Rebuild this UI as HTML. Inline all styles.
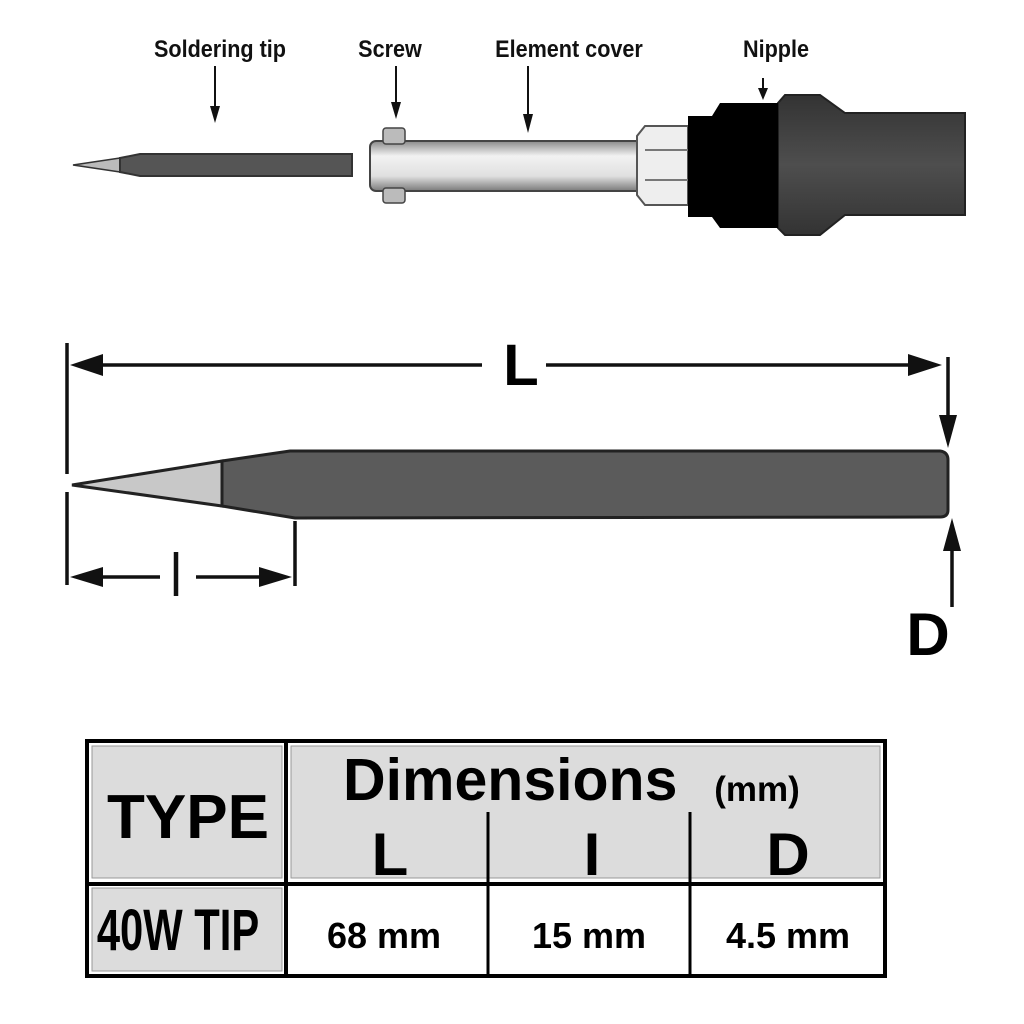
<!DOCTYPE html>
<html><head><meta charset="utf-8"><style>html,body{margin:0;padding:0;background:#fff}svg{display:block}</style></head>
<body>
<svg width="1024" height="1024" viewBox="0 0 1024 1024" xmlns="http://www.w3.org/2000/svg" font-family="Liberation Sans, Arial, sans-serif" font-weight="bold">
<defs>
<linearGradient id="cov" x1="0" y1="0" x2="0" y2="1">
<stop offset="0" stop-color="#8a8a8a"/><stop offset="0.3" stop-color="#f2f2f2"/><stop offset="0.7" stop-color="#e0e0e0"/><stop offset="1" stop-color="#7a7a7a"/>
</linearGradient>
<linearGradient id="hdl" x1="0" y1="0" x2="0" y2="1">
<stop offset="0" stop-color="#333"/><stop offset="0.5" stop-color="#4e4e4e"/><stop offset="1" stop-color="#333"/>
</linearGradient>
</defs>
<g font-size="24" fill="#111">
<text x="220" y="57" text-anchor="middle" transform="translate(220,0) scale(0.9,1) translate(-220,0)">Soldering tip</text>
<text x="390" y="57" text-anchor="middle" transform="translate(390,0) scale(0.9,1) translate(-390,0)">Screw</text>
<text x="569" y="57" text-anchor="middle" transform="translate(569,0) scale(0.9,1) translate(-569,0)">Element cover</text>
<text x="776" y="57" text-anchor="middle" transform="translate(776,0) scale(0.9,1) translate(-776,0)">Nipple</text>
</g>
<g stroke="#111" stroke-width="2">
<line x1="215" y1="66" x2="215" y2="110"/><line x1="396" y1="66" x2="396" y2="106"/><line x1="528" y1="66" x2="528" y2="118"/><line x1="763" y1="78" x2="763" y2="90"/>
</g>
<g fill="#111">
<polygon points="210,106 220,106 215,123"/><polygon points="391,102 401,102 396,119"/><polygon points="523,114 533,114 528,133"/><polygon points="758,88 768,88 763,100"/>
</g>
<polygon points="73,165 120,158 120,172" fill="#bbb" stroke="#333" stroke-width="1.5"/>
<polygon points="120,158 140,154 352,154 352,176 140,176 120,172" fill="#555" stroke="#333" stroke-width="2"/>
<rect x="370" y="141" width="272" height="50" rx="6" fill="url(#cov)" stroke="#444" stroke-width="2"/>
<rect x="383" y="128" width="22" height="16" rx="3" fill="#bbb" stroke="#444" stroke-width="1.5"/>
<rect x="383" y="188" width="22" height="15" rx="3" fill="#bbb" stroke="#444" stroke-width="1.5"/>
<polygon points="645,126 688,126 688,205 645,205 637,195 637,136" fill="#eee" stroke="#555" stroke-width="2"/>
<line x1="645" y1="150" x2="688" y2="150" stroke="#777" stroke-width="2"/>
<line x1="645" y1="180" x2="688" y2="180" stroke="#777" stroke-width="2"/>
<path d="M778,103 L785,95 L820,95 L845,113 L965,113 L965,215 L845,215 L820,235 L785,235 L778,228 Z" fill="url(#hdl)" stroke="#222" stroke-width="2"/>
<path d="M688,116 L712,116 L720,103 L778,103 L778,228 L720,228 L712,217 L688,217 Z" fill="#000"/>
<g stroke="#111" stroke-width="3.5" fill="none">
<line x1="67" y1="343" x2="67" y2="474"/><line x1="67" y1="492" x2="67" y2="585"/>
<line x1="85" y1="365" x2="482" y2="365"/><line x1="546" y1="365" x2="922" y2="365"/>
<line x1="948" y1="357" x2="948" y2="420"/>
<line x1="952" y1="545" x2="952" y2="607"/>
<line x1="85" y1="577" x2="160" y2="577"/><line x1="196" y1="577" x2="275" y2="577"/>
<line x1="295" y1="521" x2="295" y2="586"/>
<line x1="176" y1="552" x2="176" y2="596" stroke-width="4.5"/>
</g>
<g fill="#111">
<polygon points="70,365 103,354 103,376"/><polygon points="942,365 908,354 908,376"/>
<polygon points="948,448 939,415 957,415"/><polygon points="952,518 943,551 961,551"/>
<polygon points="70,577 103,567 103,587"/><polygon points="292,577 259,567 259,587"/>
</g>
<text x="521" y="385" font-size="58" text-anchor="middle" fill="#000">L</text>
<text x="928" y="655" font-size="60" text-anchor="middle" fill="#000">D</text>
<polygon points="72,485 222,461 222,506" fill="#c8c8c8" stroke="#222" stroke-width="3"/>
<path d="M222,461 L290,451 L940,451 Q948,452 948,460 L948,510 Q948,517 940,517 L295,518 L222,506 Z" fill="#5b5b5b" stroke="#222" stroke-width="3"/>
<rect x="87" y="741" width="798" height="235" fill="#fff" stroke="#000" stroke-width="4"/>
<rect x="92" y="746" width="190" height="132" fill="#dcdcdc" stroke="#999" stroke-width="1"/>
<rect x="291" y="746" width="589" height="132" fill="#dcdcdc" stroke="#999" stroke-width="1"/>
<rect x="92" y="888" width="190" height="83" fill="#dcdcdc" stroke="#999" stroke-width="1"/>
<g stroke="#000" stroke-width="4">
<line x1="286" y1="741" x2="286" y2="976"/>
<line x1="87" y1="884" x2="885" y2="884"/>
<line x1="488" y1="812" x2="488" y2="976" stroke-width="3"/>
<line x1="690" y1="812" x2="690" y2="976" stroke-width="3"/>
</g>
<g fill="#000">
<text x="188" y="838" font-size="62" text-anchor="middle">TYPE</text>
<text x="343" y="800" font-size="59">Dimensions</text>
<text x="757" y="801" font-size="35" text-anchor="middle">(mm)</text>
<text x="390" y="875" font-size="60" text-anchor="middle">L</text>
<text x="592" y="875" font-size="60" text-anchor="middle">I</text>
<text x="788" y="875" font-size="60" text-anchor="middle">D</text>
<text transform="translate(178,950) scale(0.72,1)" font-size="58" text-anchor="middle">40W TIP</text>
<text x="384" y="948" font-size="36" text-anchor="middle">68 mm</text>
<text x="589" y="948" font-size="36" text-anchor="middle">15 mm</text>
<text x="788" y="948" font-size="36" text-anchor="middle">4.5 mm</text>
</g>
</svg>
</body></html>
